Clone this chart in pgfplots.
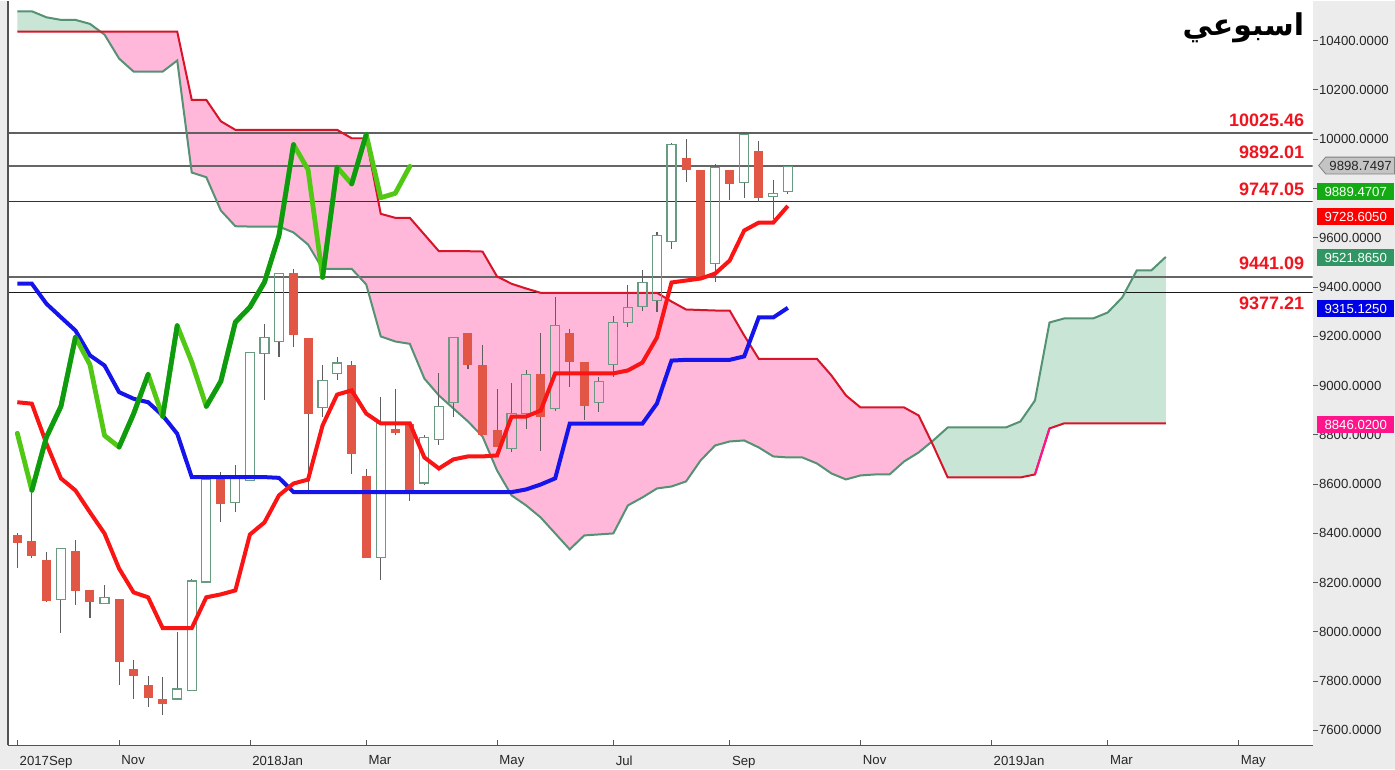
\documentclass[border=0pt]{standalone}
\usepackage{pgfplots}
\pgfplotsset{compat=1.18}
\usepackage{pgfplotstable}
\usepackage{fontspec}
\setmainfont{Liberation Sans}
\newfontfamily\arabicfont[Script=Arabic]{DejaVu Sans}
\TeXXeTstate=1

\definecolor{bgG}{RGB}{236,236,236}
\definecolor{candR}{RGB}{226,86,70}
\definecolor{hollowC}{RGB}{105,155,128}
\definecolor{wickC}{RGB}{95,95,95}
\definecolor{tenkanC}{RGB}{250,20,20}
\definecolor{kijunC}{RGB}{20,20,235}
\definecolor{chikD}{RGB}{15,155,15}
\definecolor{chikL}{RGB}{80,200,20}
\definecolor{spanAC}{RGB}{85,145,115}
\definecolor{spanBC}{RGB}{215,20,40}
\definecolor{pinkF}{RGB}{255,183,218}
\definecolor{greenF}{RGB}{200,229,213}
\definecolor{lvlR}{RGB}{240,20,30}
\definecolor{boxG}{RGB}{20,170,20}
\definecolor{boxR}{RGB}{255,0,0}
\definecolor{boxSG}{RGB}{50,150,100}
\definecolor{boxB}{RGB}{0,0,230}
\definecolor{boxP}{RGB}{255,20,140}
\definecolor{boxGray}{RGB}{196,196,196}

\newcommand\tickfont{\fontsize{6.6}{7.5}\selectfont}

\pgfplotstableread{
i o h l c
0 8395 8400 8261 8359
1 8368 8574 8300 8306
2 8293 8323 8121 8127
4 8328 8371 8107 8164
5 8171 8171 8057 8123
7 8132 8132 7783 7877
8 7850 7887 7726 7819
9 7785 7820 7694 7733
10 7729 7816 7661 7707
14 8625 8648 8445 8520
19 9456 9474 9158 9203
20 9192 9192 8567 8885
23 9084 9101 8642 8723
24 8634 8662 8301 8301
26 8822 8987 8797 8806
27 8845 8845 8533 8574
31 9212 9212 9068 9084
32 9084 9165 8797 8797
33 8820 8987 8750 8750
36 9045 9212 8736 8874
38 9212 9230 8993 9095
39 9095 9095 8861 8915
46 9922 10001 9825 9876
47 9875 9875 9439 9439
49 9875 9875 9751 9818
51 9951 9991 9744 9762
}\redc

\pgfplotstableread{
i o h l c
3 8130 8337 7996 8337
6 8114 8191 8114 8138
11 7727 7999 7727 7768
12 7762 8214 7762 8206
13 8202 8617 8202 8617
15 8526 8679 8486 8625
16 8614 9133 8614 9133
17 9129 9250 8939 9196
18 9180 9456 9115 9456
21 8912 9084 8871 9020
22 9050 9115 9023 9091
25 8303 8953 8209 8845
28 8604 8797 8594 8790
29 8780 9050 8757 8915
30 8932 9196 8871 9196
34 8743 9009 8729 8885
35 8885 9061 8824 9045
37 8905 9361 8899 9243
40 8932 9034 8892 9017
41 9084 9284 9034 9257
42 9254 9406 9237 9318
43 9322 9470 9304 9419
44 9345 9622 9297 9609
45 9586 9983 9555 9978
48 9494 9897 9419 9886
50 9825 10024 9762 10019
52 9767 9832 9676 9780
53 9788 9895 9778 9889.47
}\hollowc

\pgfplotstableread{
i t k
0 8932 9413
1 8926 9413
2 8765 9332
3 8623 9277
4 8574 9223
5 8485 9122
6 8399 9081
7 8257 8973
8 8160 8946
9 8140 8932
10 8015 8878
11 8015 8804
12 8015 8628
13 8140 8628
14 8152 8628
15 8168 8628
16 8395 8628
17 8444 8628
18 8554 8625
19 8602 8567
20 8618 8567
21 8838 8567
22 8963 8567
23 8980 8567
24 8886 8567
25 8846 8567
26 8846 8567
27 8846 8567
28 8708 8567
29 8663 8567
30 8700 8567
31 8712 8567
32 8712 8567
33 8716 8567
34 8874 8567
35 8874 8578
36 8898 8598
37 9049 8623
38 9049 8845
39 9049 8845
40 9049 8845
41 9049 8845
42 9061 8845
43 9093 8845
44 9195 8927
45 9418 9101
46 9426 9104
47 9434 9104
48 9454 9104
49 9507 9104
50 9629 9118
51 9661 9276
52 9661 9276
53 9728.6 9315.1
}\tk

\pgfplotstableread{
i v
0 8806
1 8574
2 8790
3 8915
4 9196
5 9084
6 8797
7 8750
8 8885
9 9045
10 8874
11 9243
12 9095
13 8915
14 9017
15 9257
16 9318
17 9419
18 9609
19 9978
20 9876
21 9439
22 9886
23 9818
24 10019
25 9762
26 9780
27 9889.47
}\chik

\pgfplotstableread{
i a b
0 10519 10436.5
1 10519 10436.5
2 10494.5 10436.5
3 10484 10436.5
4 10484 10436.5
5 10467.7 10436.5
6 10424.3 10436.5
7 10327 10436.5
8 10274 10436.5
9 10274 10436.5
10 10274 10436.5
11 10319 10436.5
12 9864.3 10159.3
13 9845.3 10159.3
14 9710.2 10072.5
15 9646.4 10037.6
16 9645 10037.6
17 9645 10037.6
18 9645 10037.6
19 9621 10037.6
20 9572 10037.6
21 9473.5 10037.6
22 9473.5 10037.6
23 9473.5 10003.5
24 9410 10003.5
25 9199 9696.7
26 9178.5 9680.5
27 9169 9680.5
28 9028 9612.7
29 8959.4 9545
30 8906.6 9545
31 8853.9 9545
32 8793 9543.7
33 8655 9442.3
34 8553.6 9412.7
35 8513 9393.6
36 8464.3 9376.1
37 8399.4 9376.1
38 8334.5 9376.1
39 8391.3 9376.1
40 8395.3 9376.1
41 8399.4 9376.1
42 8513 9376.1
43 8545.5 9376.1
44 8582 9376.1
45 8590 9340.8
46 8610.4 9308.4
47 8695.6 9306.3
48 8756.5 9304.3
49 8772.7 9304.3
50 8776.8 9202.9
51 8748.4 9108.3
52 8711.9 9108.3
53 8707.8 9108.3
54 8707.8 9108.3
55 8683.5 9108.3
56 8642.9 9040.6
57 8618.5 8959.4
58 8634.8 8910.7
59 8638.8 8910.7
60 8638.8 8910.7
61 8691.6 8910.7
62 8728 8878.2
63 8776.8 8756.5
64 8829.5 8626.6
65 8829.5 8626.6
66 8829.5 8626.6
67 8829.5 8626.6
68 8829.5 8626.6
69 8853.9 8626.6
70 8939 8638.8
71 9255.6 8825.5
72 9272 8846.02
73 9272 8846.02
74 9272 8846.02
75 9296 8846.02
76 9357 8846.02
77 9466.7 8846.02
78 9466.7 8846.02
79 9521.87 8846.02
}\cloud

\pgfplotsset{
  ebar/.style n args={2}{draw=none, mark=none, forget plot,
    error bars/.cd, y dir=both, y explicit, error mark=none,
    error bar style={draw=#1, line width=#2, line cap=butt}},
  xbar err/.style n args={2}{draw=none, mark=none, forget plot,
    error bars/.cd, x dir=both, x explicit, error mark=none,
    error bar style={draw=#1, line width=#2, line cap=rect}},
}

\begin{document}
\begin{tikzpicture}
\fill[bgG] (0,0) rectangle (697.5pt,384.5pt);
\begin{axis}[
  at={(4pt,12pt)}, anchor=south west,
  width=652.5pt, height=372.5pt, scale only axis,
  xmin=-0.64, xmax=89.1, ymin=7539, ymax=10562.3,
  axis background/.style={fill=white},
  axis line style={draw=none},
  clip=true,
  scaled y ticks=false,
  ytick={7600,7800,8000,8200,8400,8600,8800,9000,9200,9400,9600,10000,10200,10400},
  extra y ticks={9800}, extra y tick labels={},
  yticklabel pos=right, ytick pos=right, xtick pos=left,
  tick align=outside,
  major tick length=2.5pt,
  tick style={draw=gray!70!black, line width=0.4pt},
  xtick style={yshift=2.5pt},
  xtick={0,7,16,24,33,41,49,58,67,75,84},
  xticklabels={2017Sep,Nov,2018Jan,Mar,May,Jul,Sep,Nov,2019Jan,Mar,May},
  xticklabel style={anchor=north west, font=\tickfont, text=black!85, inner sep=1pt, yshift=-1.5pt},
  yticklabel style={anchor=west, font=\tickfont, text=black!85, inner sep=0.5pt,
    /pgf/number format/fixed, /pgf/number format/fixed zerofill,
    /pgf/number format/precision=4, /pgf/number format/1000 sep={},
    /pgf/number format/assume math mode=true},
]
% cloud fills
\addplot[fill=greenF, draw=none, forget plot] coordinates {(0,10519) (1,10519) (2,10494.5) (3,10484) (4,10484) (5,10467.7) (5.72,10436.5) (5,10436.5) (0,10436.5)} -- cycle;
\addplot[fill=pinkF, draw=none, forget plot] coordinates {(5.72,10436.5) (6,10424.3) (7,10327) (8,10274) (9,10274) (10,10274) (11,10319) (12,9864.3) (13,9845.3) (14,9710.2) (15,9646.4) (16,9645) (17,9645) (18,9645) (19,9621) (20,9572) (21,9473.5) (22,9473.5) (23,9473.5) (24,9410) (25,9199) (26,9178.5) (27,9169) (28,9028) (29,8959.4) (30,8906.6) (31,8853.9) (32,8793) (33,8655) (34,8553.6) (35,8513) (36,8464.3) (37,8399.4) (38,8334.5) (39,8391.3) (40,8395.3) (41,8399.4) (42,8513) (43,8545.5) (44,8582) (45,8590) (46,8610.4) (47,8695.6) (48,8756.5) (49,8772.7) (50,8776.8) (51,8748.4) (52,8711.9) (53,8707.8) (54,8707.8) (55,8683.5) (56,8642.9) (57,8618.5) (58,8634.8) (59,8638.8) (60,8638.8) (61,8691.6) (62,8728) (62.88,8771)
 (62,8878.2) (61,8910.7) (58,8910.7) (57,8959.4) (56,9040.6) (55,9108.3) (51,9108.3) (50,9202.9) (49,9304.3) (48,9304.3) (47,9306.3) (46,9308.4) (45,9340.8) (44,9376.1) (36,9376.1) (35,9393.6) (34,9412.7) (33,9442.3) (32,9543.7) (31,9545) (29,9545) (28,9612.7) (27,9680.5) (26,9680.5) (25,9696.7) (24,10003.5) (23,10003.5) (22,10037.6) (15,10037.6) (14,10072.5) (13,10159.3) (12,10159.3) (11,10436.5) (6,10436.5)} -- cycle;
\addplot[fill=greenF, draw=none, forget plot] coordinates {(62.88,8771) (63,8776.8) (64,8829.5) (68,8829.5) (69,8853.9) (70,8939) (71,9255.6) (72,9272) (74,9272) (75,9296) (76,9357) (77,9466.7) (78,9466.7) (79,9521.87) (79,8846.02) (72,8846.02) (71,8825.5) (70,8638.8) (69,8626.6) (64,8626.6) (63,8756.5)} -- cycle;
% level lines
\addplot[gray!75!black, line width=0.8pt] coordinates {(-1,10025.46) (90,10025.46)};
\addplot[gray!80!black, line width=0.8pt] coordinates {(-1,9892.01) (90,9892.01)};
\addplot[black!80, line width=0.8pt] coordinates {(-1,9747.05) (90,9747.05)};
\addplot[gray!80!black, line width=0.8pt] coordinates {(-1,9441.09) (90,9441.09)};
\addplot[black!90, line width=0.8pt] coordinates {(-1,9377.21) (90,9377.21)};
% span lines
\addplot[spanAC, line width=1pt] table[x=i, y=a] {\cloud};
\addplot[spanBC, line width=1pt] table[x=i, y=b] {\cloud};
\addplot[boxP, line width=1pt] coordinates {(70,8638.8) (71,8825.5)};
% red candles: wick + body
\addplot[ebar={wickC}{0.55pt}] table[x=i, y expr=\thisrow{h}/2+\thisrow{l}/2, y error expr=\thisrow{h}/2-\thisrow{l}/2] {\redc};
\addplot[ebar={candR}{4.5pt}] table[x=i, y expr=\thisrow{o}/2+\thisrow{c}/2, y error expr=\thisrow{o}/2-\thisrow{c}/2] {\redc};
% hollow candles: wicks above and below, outline
\addplot[ebar={wickC}{0.55pt}] table[x=i, y expr=\thisrow{h}/2+\thisrow{c}/2, y error expr=\thisrow{h}/2-\thisrow{c}/2] {\hollowc};
\addplot[ebar={wickC}{0.55pt}] table[x=i, y expr=\thisrow{o}/2+\thisrow{l}/2, y error expr=\thisrow{o}/2-\thisrow{l}/2] {\hollowc};
\addplot[ebar={hollowC}{0.6pt}] table[x expr=\thisrow{i}-0.31, y expr=\thisrow{o}/2+\thisrow{c}/2, y error expr=\thisrow{c}/2-\thisrow{o}/2] {\hollowc};
\addplot[ebar={hollowC}{0.6pt}] table[x expr=\thisrow{i}+0.31, y expr=\thisrow{o}/2+\thisrow{c}/2, y error expr=\thisrow{c}/2-\thisrow{o}/2] {\hollowc};
\addplot[xbar err={hollowC}{0.6pt}] table[x=i, y=o, x error expr=0.31] {\hollowc};
\addplot[xbar err={hollowC}{0.6pt}] table[x=i, y=c, x error expr=0.31] {\hollowc};
% kijun, tenkan
\addplot[kijunC, line width=2pt] table[x=i, y=k] {\tk};
\addplot[tenkanC, line width=2pt] table[x=i, y=t] {\tk};
% chikou: light base, dark rising segments
\addplot[chikL, line width=2.4pt, line join=round, line cap=round] table[x=i, y=v] {\chik};
\addplot[chikD, line width=2.4pt, line join=round, line cap=round] coordinates {(1,8574) (2,8790) (3,8915) (4,9196)};
\addplot[chikD, line width=2.4pt, line join=round, line cap=round] coordinates {(7,8750) (8,8885) (9,9045)};
\addplot[chikD, line width=2.4pt, line join=round, line cap=round] coordinates {(10,8874) (11,9243)};
\addplot[chikD, line width=2.4pt, line join=round, line cap=round] coordinates {(13,8915) (14,9017) (15,9257) (16,9318) (17,9419) (18,9609) (19,9978)};
\addplot[chikD, line width=2.4pt, line join=round, line cap=round] coordinates {(21,9439) (22,9886)};
\addplot[chikD, line width=2.4pt, line join=round, line cap=round] coordinates {(23,9818) (24,10019)};
\end{axis}
% axis frame lines
\draw[gray!65!black, line width=0.6pt] (4pt,12pt) -- (4pt,384.5pt);
\draw[gray!65!black, line width=0.6pt] (4pt,12pt) -- (656.5pt,12pt);
% level labels
\begin{scope}[every node/.style={anchor=east, text=lvlR, font=\bfseries\fontsize{9}{10}\selectfont, inner sep=0pt}]
\node at (652.5pt,324.5pt) {10025.46};
\node at (652.5pt,308.5pt) {9892.01};
\node at (652.5pt,290pt) {9747.05};
\node at (652.5pt,253pt) {9441.09};
\node at (652.5pt,233pt) {9377.21};
\end{scope}
% title
\node[anchor=east, inner sep=0pt, font=\arabicfont\bfseries\fontsize{15}{18}\selectfont] at (652.5pt,371pt) {\beginR اسبوعي\endR};
% right boxes
\fill[boxGray, draw=gray] (697.5pt,306.2pt) -- (663pt,306.2pt) -- (659.5pt,302pt) -- (663pt,297.8pt) -- (697.5pt,297.8pt) -- cycle;
\node[font=\tickfont, text=black!85, inner sep=0pt] at (680.5pt,302pt) {9898.7497};
\begin{scope}[every node/.style={anchor=east, font=\tickfont, text=white, inner sep=0pt, minimum width=38.5pt, minimum height=8.6pt}]
\node[fill=boxG] at (697.5pt,289pt) {9889.4707};
\node[fill=boxR] at (697.5pt,276.5pt) {9728.6050};
\node[fill=boxSG] at (697.5pt,256pt) {9521.8650};
\node[fill=boxB] at (697.5pt,230.5pt) {9315.1250};
\node[fill=boxP] at (697.5pt,172.5pt) {8846.0200};
\end{scope}
\end{tikzpicture}
\end{document}
